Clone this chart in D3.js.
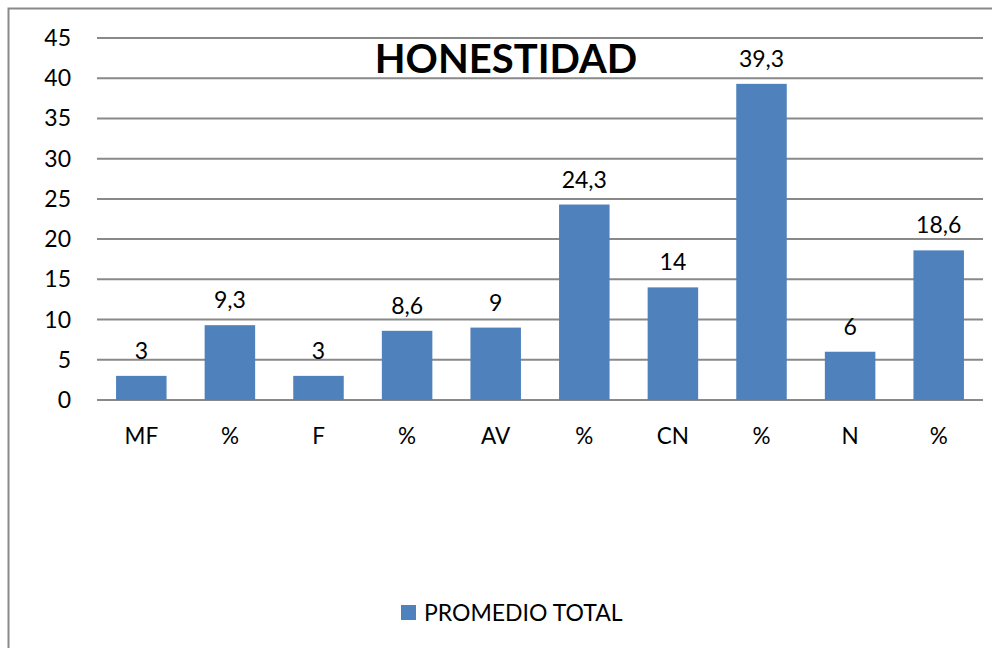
<!DOCTYPE html>
<html>
<head>
  <meta charset="utf-8">
  <script src="https://d3js.org/d3.v7.min.js"></script>
  <style>
    body { margin: 0; background: #fff; }
    text { font-family: 'Lato', 'Open Sans', sans-serif; fill: #000; }
    .title { font-size: 40px; font-weight: 700; }
    .y-label { font-size: 23px; }
    .x-label { font-size: 22.5px; }
    .bar-label { font-size: 23px; }
    .legend-text { font-size: 23px; }
  </style>
</head>
<body>
<div id="chart"></div>
<script>
// data
var categories = ["MF", "%", "F", "%", "AV", "%", "CN", "%", "N", "%"];
var values = [3, 9.3, 3, 8.6, 9, 24.3, 14, 39.3, 6, 18.6];
var yTicks = [0, 5, 10, 15, 20, 25, 30, 35, 40, 45];
var seriesName = "PROMEDIO TOTAL";
var title = "HONESTIDAD";

var width = 992, height = 648;
var plot = { left: 97, right: 983, top: 38, bottom: 400 };
var barColor = "#4f81bd";
var gridColor = "#898989";

var svg = d3.select("#chart").append("svg")
    .attr("width", width)
    .attr("height", height);

// outer frame (right and bottom sides fall outside the picture)
svg.append("rect")
    .attr("x", 8.5).attr("y", 8.5)
    .attr("width", 1100).attr("height", 800)
    .attr("fill", "none")
    .attr("stroke", gridColor)
    .attr("stroke-width", 2);

var x = d3.scaleBand()
    .domain(d3.range(categories.length))
    .range([plot.left, plot.right])
    .padding(0);

var y = d3.scaleLinear()
    .domain([0, 45])
    .range([plot.bottom, plot.top]);

// gridlines
svg.append("g").selectAll("line")
    .data(yTicks)
    .enter().append("line")
    .attr("x1", plot.left).attr("x2", plot.right)
    .attr("y1", function(d) { return y(d); })
    .attr("y2", function(d) { return y(d); })
    .attr("stroke", gridColor)
    .attr("stroke-width", 2);

// y labels
svg.append("g").selectAll("text")
    .data(yTicks)
    .enter().append("text")
    .attr("class", "y-label")
    .attr("x", 71)
    .attr("y", function(d) { return y(d) + 8; })
    .attr("text-anchor", "end")
    .text(function(d) { return d; });

var barW = x.bandwidth() * 0.57;

// bars
svg.append("g").selectAll("rect")
    .data(values)
    .enter().append("rect")
    .attr("x", function(d, i) { return x(i) + (x.bandwidth() - barW) / 2; })
    .attr("y", function(d) { return y(d); })
    .attr("width", barW)
    .attr("height", function(d) { return y(0) - y(d); })
    .attr("fill", barColor);

// value labels
svg.append("g").selectAll("text")
    .data(values)
    .enter().append("text")
    .attr("class", "bar-label")
    .attr("x", function(d, i) { return x(i) + x.bandwidth() / 2; })
    .attr("y", function(d) { return y(d) - 17; })
    .attr("text-anchor", "middle")
    .text(function(d) { return String(d).replace(".", ","); });

// category labels
svg.append("g").selectAll("text")
    .data(categories)
    .enter().append("text")
    .attr("class", "x-label")
    .attr("x", function(d, i) { return x(i) + x.bandwidth() / 2; })
    .attr("y", 444)
    .attr("text-anchor", "middle")
    .text(function(d) { return d; });

// title
svg.append("text")
    .attr("class", "title")
    .attr("x", 506)
    .attr("y", 73)
    .attr("text-anchor", "middle")
    .text(title);

// legend
svg.append("rect")
    .attr("x", 401).attr("y", 605)
    .attr("width", 15).attr("height", 15)
    .attr("fill", barColor);

svg.append("text")
    .attr("class", "legend-text")
    .attr("x", 424)
    .attr("y", 621)
    .text(seriesName);
</script>
</body>
</html>
